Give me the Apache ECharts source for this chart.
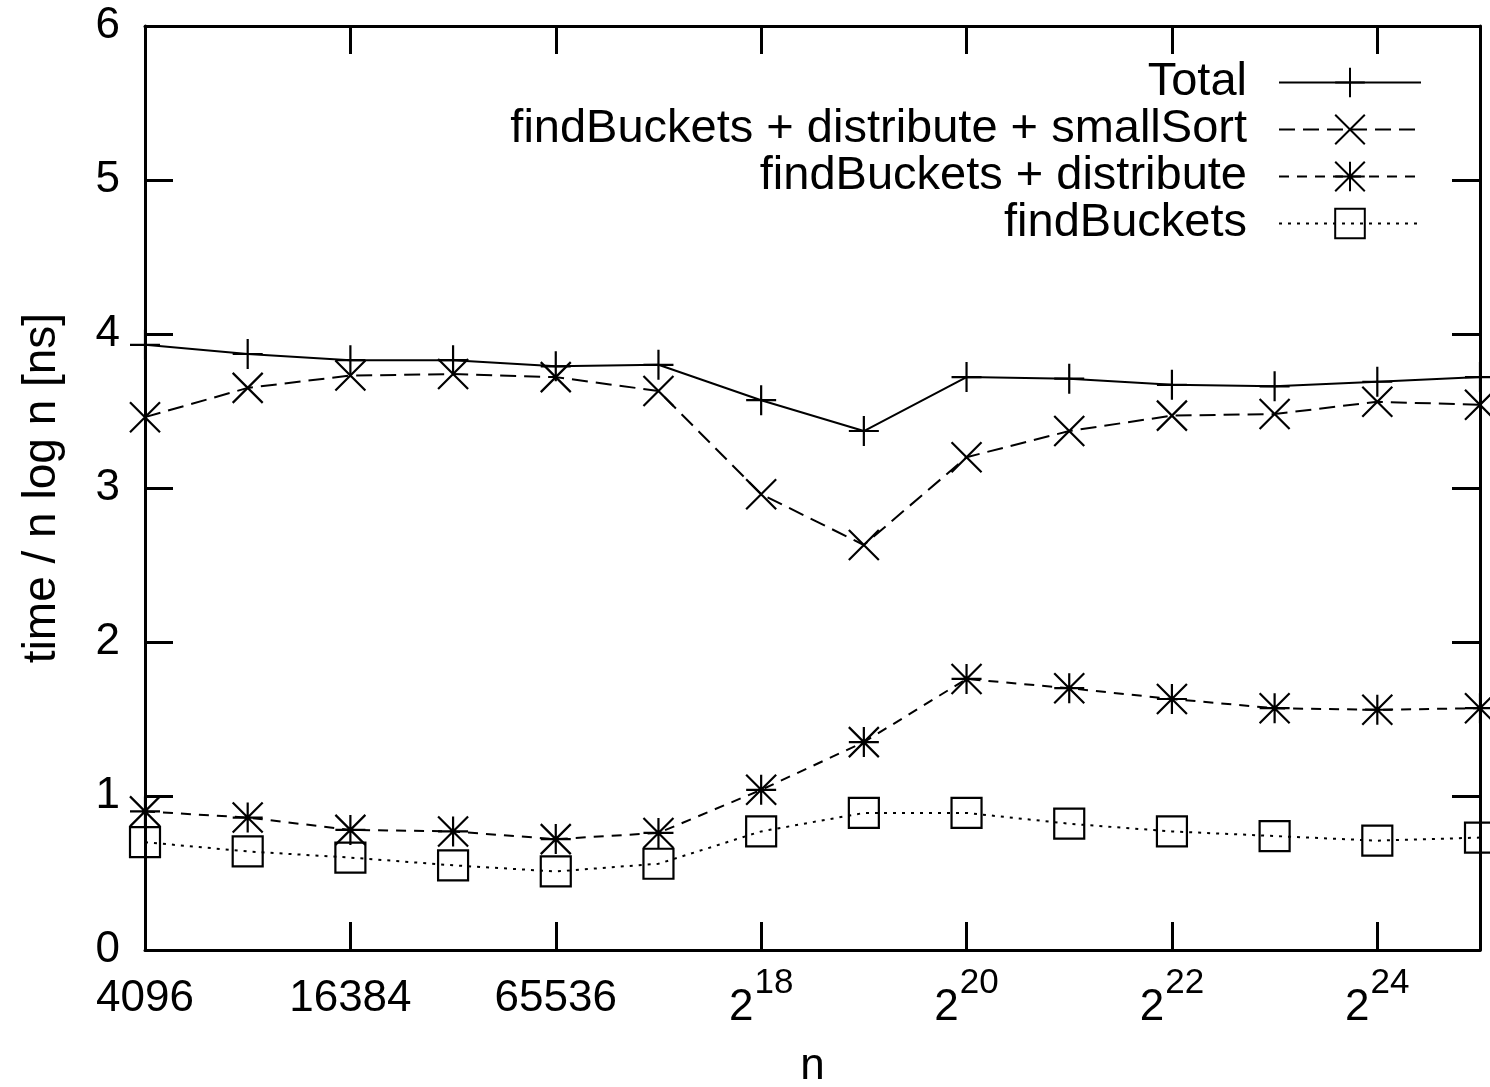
<!DOCTYPE html>
<html><head><meta charset="utf-8">
<script src="https://cdn.jsdelivr.net/npm/echarts@6/dist/echarts.min.js"></script>
<style>html,body{margin:0;padding:0;background:#fff}#c{width:1490px;height:1087px}</style>
</head><body><div id="c"></div>
<script>
// log2(n)
const exponents = [12, 13, 14, 15, 16, 17, 18, 19, 20, 21, 22, 23, 24, 25];
const seriesNames = ['Total', 'findBuckets + distribute + smallSort', 'findBuckets + distribute', 'findBuckets'];
const total       = [3.93, 3.87, 3.83, 3.83, 3.79, 3.80, 3.57, 3.37, 3.72, 3.71, 3.67, 3.66, 3.69, 3.72];
const fbDistSmall = [3.46, 3.65, 3.73, 3.74, 3.72, 3.63, 2.96, 2.63, 3.20, 3.37, 3.47, 3.48, 3.56, 3.54];
const fbDist      = [0.90, 0.86, 0.78, 0.77, 0.72, 0.76, 1.04, 1.35, 1.76, 1.70, 1.63, 1.57, 1.56, 1.57];
const fb          = [0.70, 0.64, 0.60, 0.55, 0.51, 0.56, 0.77, 0.89, 0.89, 0.82, 0.77, 0.74, 0.71, 0.73];
const xTickLabels = {12: '4096', 14: '16384', 16: '65536'}; // others shown as 2^k
const yTicks = [0, 1, 2, 3, 4, 5, 6];

const FONT = "'Liberation Sans', Arial, Helvetica, sans-serif";
const FS = 44;

const plus = 'path://M15,0L15,30M0,15L30,15';
const cross = 'path://M0,0L30,30M30,0L0,30';
const star = 'path://M15,0L15,30M0,15L30,15M0,0L30,30M30,0L0,30';

const styles = [
  {symbol: plus, type: 'solid'},
  {symbol: cross, type: [16, 8]},
  {symbol: star, type: [10, 8]},
  {symbol: 'rect', type: [3, 6]}
];
const values = [total, fbDistSmall, fbDist, fb];

const series = values.map((vals, i) => ({
  name: seriesNames[i],
  type: 'line',
  data: exponents.map((e, k) => [e, vals[k]]),
  symbol: styles[i].symbol,
  symbolSize: 30,
  showAllSymbol: true,
  clip: false,
  lineStyle: {color: '#000', width: 2, type: styles[i].type},
  itemStyle: {color: i === 3 ? 'rgba(0,0,0,0)' : '#000', borderColor: '#000', borderWidth: 2.2},
  emphasis: {disabled: true},
  z: 10 - i
}));

const legendTops = [54, 101, 148, 195];
const legends = seriesNames.map((n, i) => ({
  data: [n],
  right: 63,
  top: legendTops[i],
  align: 'right',
  orient: 'vertical',
  itemWidth: 142,
  itemHeight: 37,
  selectedMode: false,
  textStyle: {fontFamily: FONT, fontSize: 47, color: '#000', padding: [0, 27, 0, 0]}
}));

const xLabel = v => {
  if (xTickLabels[v] !== undefined) return '{n|' + xTickLabels[v] + '}';
  return '{b|2}{s|' + v + '}';
};

const option = {
  animation: false,
  backgroundColor: '#fff',
  legend: legends,
  grid: {left: 145, right: 10, top: 26, bottom: 137, containLabel: false, outerBoundsMode: 'none'},
  xAxis: [{
    type: 'value', min: 12, max: 25, interval: 2,
    name: 'n', nameLocation: 'middle', nameGap: 95,
    nameTextStyle: {fontFamily: FONT, fontSize: FS, color: '#000'},
    axisLine: {onZero: false, lineStyle: {color: '#000', width: 3}},
    axisTick: {inside: true, length: 28, lineStyle: {color: '#000', width: 3}},
    splitLine: {show: false},
    axisLabel: {
      margin: 16, showMaxLabel: false, formatter: xLabel, verticalAlign: 'top',
      rich: {
        n: {fontFamily: FONT, fontSize: FS, color: '#000', lineHeight: 66},
        b: {fontFamily: FONT, fontSize: FS, color: '#000', lineHeight: 64, verticalAlign: 'bottom'},
        s: {fontFamily: FONT, fontSize: 35, color: '#000', lineHeight: 10, verticalAlign: 'top', padding: [0, 0, 0, 1]}
      }
    }
  }, {
    type: 'value', min: 12, max: 25, interval: 2, position: 'top',
    axisLine: {onZero: false, lineStyle: {color: '#000', width: 3}},
    axisTick: {inside: true, length: 28, lineStyle: {color: '#000', width: 3}},
    axisLabel: {show: false}, splitLine: {show: false}
  }],
  yAxis: [{
    type: 'value', min: yTicks[0], max: yTicks[yTicks.length - 1], interval: 1,
    name: 'time / n log n [ns]', nameLocation: 'middle', nameGap: 80,
    nameTextStyle: {fontFamily: FONT, fontSize: 46, color: '#000'},
    axisLine: {onZero: false, lineStyle: {color: '#000', width: 3}},
    axisTick: {inside: true, length: 28, lineStyle: {color: '#000', width: 3}},
    splitLine: {show: false},
    axisLabel: {margin: 25, fontFamily: FONT, fontSize: FS, color: '#000'}
  }, {
    type: 'value', min: yTicks[0], max: yTicks[yTicks.length - 1], interval: 1, position: 'right',
    axisLine: {onZero: false, lineStyle: {color: '#000', width: 3}},
    axisTick: {inside: true, length: 28, lineStyle: {color: '#000', width: 3}},
    axisLabel: {show: false}, splitLine: {show: false}
  }],
  series: series
};

const chart = echarts.init(document.getElementById('c'), null, {renderer: 'canvas'});
chart.setOption(option);
</script>
</body></html>
